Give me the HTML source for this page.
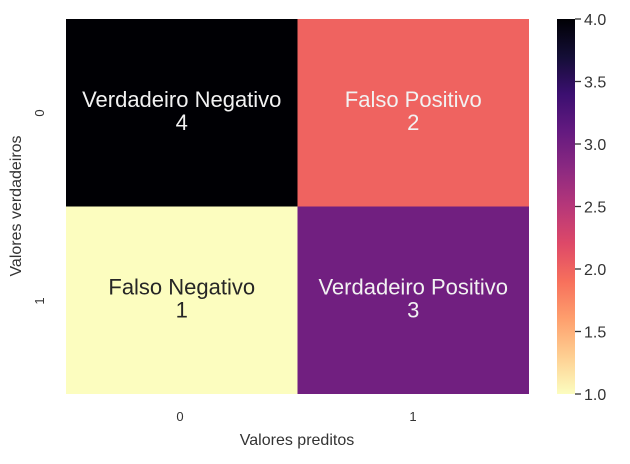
<!DOCTYPE html>
<html><head><meta charset="utf-8"><style>body{margin:0;background:#fff}</style></head>
<body>
<svg id="chart" width="630" height="459" xmlns="http://www.w3.org/2000/svg" font-family="Liberation Sans, sans-serif">
<defs>
<linearGradient id="mg" x1="0" y1="1" x2="0" y2="0">
<stop offset="0" stop-color="#fcfdbf"/><stop offset="0.1" stop-color="#fecf92"/><stop offset="0.2" stop-color="#fe9f6d"/>
<stop offset="0.3" stop-color="#f7705c"/><stop offset="0.4" stop-color="#de4968"/><stop offset="0.5" stop-color="#b73779"/>
<stop offset="0.6" stop-color="#8c2981"/><stop offset="0.7" stop-color="#641a80"/><stop offset="0.8" stop-color="#3b0f70"/>
<stop offset="0.9" stop-color="#140e36"/><stop offset="1" stop-color="#000004"/>
</linearGradient>
</defs>
<g id="cells"></g>
<g id="cbar"></g>
<text x="180" y="421" font-size="13" fill="#333" text-anchor="middle">0</text>
<text x="413" y="421" font-size="13" fill="#333" text-anchor="middle">1</text>
<text x="297" y="445" font-size="16" fill="#333" text-anchor="middle">Valores preditos</text>
<text transform="translate(44,113) rotate(-90)" font-size="13" fill="#333" text-anchor="middle">0</text>
<text transform="translate(44,301) rotate(-90)" font-size="13" fill="#333" text-anchor="middle">1</text>
<text transform="translate(21,206) rotate(-90)" font-size="16" fill="#333" text-anchor="middle">Valores verdadeiros</text>
</svg>
<script>
const values=[[4,2],[1,3]];
const labels=[["Verdadeiro Negativo","Falso Positivo"],["Falso Negativo","Verdadeiro Positivo"]];
const cbTicks=[1.0,1.5,2.0,2.5,3.0,3.5,4.0];
const vmin=1,vmax=4;
const L=66,T=19,W=463,H=375,NS="http://www.w3.org/2000/svg";
const stops=[[0,[252,253,191]],[0.1,[254,207,146]],[0.2,[254,159,109]],[0.3,[247,112,92]],[0.4,[222,73,104]],[0.5,[183,55,121]],[0.6,[140,41,129]],[0.7,[100,26,128]],[0.8,[59,15,112]],[0.9,[20,14,54]],[1,[0,0,4]]];
function col(v){let t=(v-vmin)/(vmax-vmin);t=Math.max(0,Math.min(1,t));for(let i=1;i<stops.length;i++){if(t<=stops[i][0]){const a=stops[i-1],b=stops[i],f=(t-a[0])/(b[0]-a[0]);return 'rgb('+a[1].map((c,k)=>Math.round(c+(b[1][k]-c)*f)).join(',')+')';}}return 'rgb(0,0,4)';}
function mk(tag,at,p){const e=document.createElementNS(NS,tag);for(const k in at)e.setAttribute(k,at[k]);p.appendChild(e);return e;}
const g=document.getElementById('cells');
const cw=W/values[0].length,ch=H/values.length;
values.forEach((row,r)=>row.forEach((v,c)=>{
 const x=L+c*cw,y=T+r*ch;
 const rc=mk('rect',{x:x,y:y,width:cw,height:ch,fill:col(v)},g);
 
 
 const tc=((v-vmin)/(vmax-vmin))>0.25?'#f2f2f2':'#262626';
 const t1=mk('text',{x:x+cw/2,y:y+ch/2-6,'font-size':22,fill:tc,'text-anchor':'middle'},g);t1.textContent=labels[r][c];
 
 
 const t2=mk('text',{x:x+cw/2,y:y+ch/2+17,'font-size':22,fill:tc,'text-anchor':'middle'},g);t2.textContent=v;
 
 
}));
const cb=document.getElementById('cbar');
const CX=557,CW=18;
const bar=mk('rect',{x:CX,y:T,width:CW,height:H,fill:'url(#mg)'},cb);


cbTicks.forEach(v=>{const y=T+H-(v-vmin)/(vmax-vmin)*H;
 mk('line',{x1:CX+CW,x2:CX+CW+6,y1:y,y2:y,stroke:'#333','stroke-width':1.3},cb);
 const t=mk('text',{x:CX+CW+9,y:y+6,'font-size':16,fill:'#333'},cb);t.textContent=v.toFixed(1);
 
 
});
</script>
</body></html>
